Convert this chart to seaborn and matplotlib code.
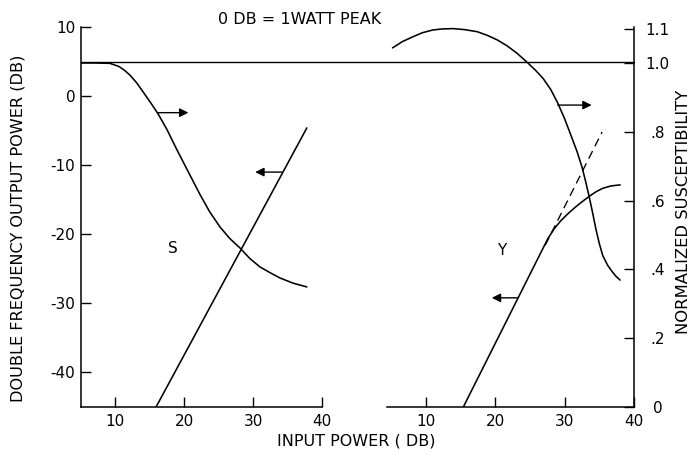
import matplotlib
matplotlib.use("Agg")
import matplotlib.pyplot as plt
import seaborn as sns

# ---- data -------------------------------------------------------------
# Sample S: normalized susceptibility and double-frequency output vs input power
s_power = [5, 7, 9.2, 10.5, 11.3, 12.1, 13.1, 14.05, 15.1, 16.2, 17.5, 18.9,
           20.8, 22.3, 23.7, 25.2, 26.6, 28.1, 29.5, 31.0, 32.5, 33.9, 35.8, 37.8]
s_susc = [1.0, 1.0, 0.999, 0.99, 0.979, 0.965, 0.942, 0.915, 0.885, 0.852, 0.806, 0.749,
          0.675, 0.617, 0.567, 0.523, 0.49, 0.462, 0.432, 0.407, 0.39, 0.375, 0.36, 0.349]
s_out_power = [15.9, 37.8]
s_out_db = [-45, -4.6]

# Sample Y
y_power = [5.2, 6.6, 8.1, 9.5, 11.0, 12.4, 13.9, 15.6, 17.4, 18.9, 20.3, 21.7, 23.1,
           24.6, 25.8, 26.9, 28.0, 29.0, 30.0, 31.0, 31.8, 32.5, 33.0, 33.5, 34.0,
           34.5, 35.0, 35.5, 36.2, 36.8, 37.4, 38.0]
y_susc = [1.044, 1.062, 1.076, 1.088, 1.096, 1.099, 1.10, 1.097, 1.091, 1.08, 1.067, 1.05, 1.029,
          1.002, 0.979, 0.955, 0.923, 0.884, 0.838, 0.785, 0.742, 0.698, 0.658, 0.615, 0.568,
          0.518, 0.475, 0.44, 0.412, 0.395, 0.38, 0.369]
y_out_power = [15.4, 23.3, 26.8, 27.6, 28.5, 29.4, 30.4, 31.4, 32.5, 33.7, 34.6, 35.5, 36.7, 38.0]
y_out_db = [-45, -29.2, -22.2, -20.6, -19.2, -18.1, -17.1, -16.2, -15.3, -14.4, -13.8, -13.35, -13.0, -12.85]
# square-law extrapolation of the Y output (dashed)
y_ext_power = [27.2, 35.4]
y_ext_db = [-21.6, -5.2]

# reference level: 5 dB output corresponds to susceptibility 1.0
ref_db = 5

db_ticks = [-40, -30, -20, -10, 0, 10]
db_labels = ["-40", "-30", "-20", "-10", "0", "10"]
power_ticks = [10, 20, 30, 40]
susc_ticks = [0, 0.2, 0.4, 0.6, 0.8, 1.0, 1.1]
susc_labels = ["0", ".2", ".4", ".6", ".8", "1.0", "1.1"]

# arrows: (tail x, head x, level in dB) telling which axis a curve is read on
s_susc_arrow = (16.2, 20.6, -2.4)
s_out_arrow = (34.2, 30.3, -11.0)
y_susc_arrow = (29.0, 33.9, -1.3)
y_out_arrow = (23.3, 19.5, -29.2)

# ---- style ------------------------------------------------------------
sns.set_theme(style="white")
plt.rcParams["font.family"] = ["DejaVu Sans"]
plt.rcParams["axes.unicode_minus"] = False

LW = 1.15
INK = "black"

fig = plt.figure(figsize=(6.94, 4.5), dpi=100)
W, H = 694, 450
ax1 = fig.add_axes([81 / W, 43 / H, 241 / W, 380 / H])
ax2 = fig.add_axes([387 / W, 43 / H, 247 / W, 380 / H])

susc_top = 380 / 344

for ax in (ax1, ax2):
    ax.set_facecolor("none")
    ax.set_ylim(-45, 10)
    ax.set_xticks(power_ticks)
    ax.set_xticklabels([str(t) for t in power_ticks])
    ax.tick_params(axis="x", direction="in", length=7, width=1, pad=5,
                   labelsize=11, colors=INK, bottom=True)
    ax.spines["top"].set_visible(False)
    ax.spines["right"].set_visible(False)
    for sp in ax.spines.values():
        sp.set_color(INK)
        sp.set_linewidth(1.1)

ax1.set_xlim(5, 40)
ax2.set_xlim(4.4, 40)

ax1.set_yticks(db_ticks)
ax1.set_yticklabels(db_labels)
ax1.tick_params(axis="y", direction="in", length=7, width=1, pad=4,
                labelsize=11, colors=INK, left=True)

ax2.spines["left"].set_visible(False)
ax2.set_yticks([])

# hidden susceptibility scale for the left panel
ax1s = ax1.twinx()
ax1s.set_ylim(0, susc_top)
ax1s.axis("off")

# visible susceptibility scale on the right panel
ax2s = ax2.twinx()
ax2s.set_ylim(0, susc_top)
ax2s.set_facecolor("none")
for name in ("top", "bottom", "left"):
    ax2s.spines[name].set_visible(False)
ax2s.spines["right"].set_color(INK)
ax2s.spines["right"].set_linewidth(1.1)
ax2s.set_yticks(susc_ticks)
ax2s.set_yticklabels(susc_labels)
ax2s.tick_params(axis="y", direction="in", length=7, width=1, pad=17,
                 labelsize=11, colors=INK, right=True)
for lbl in ax2s.get_yticklabels():
    lbl.set_horizontalalignment("center")

# ---- curves -----------------------------------------------------------
line_kw = dict(color=INK, linewidth=LW, estimator=None, legend=False)
sns.lineplot(x=s_power, y=s_susc, ax=ax1s, **line_kw)
sns.lineplot(x=s_out_power, y=s_out_db, ax=ax1, **line_kw)
sns.lineplot(x=y_power, y=y_susc, ax=ax2s, **line_kw)
sns.lineplot(x=y_out_power, y=y_out_db, ax=ax2, **line_kw)
sns.lineplot(x=y_ext_power, y=y_ext_db, ax=ax2, color=INK, linewidth=0.95,
             estimator=None, legend=False, linestyle=(0, (6.5, 4)))
for ax in (ax1, ax1s, ax2, ax2s):
    ax.set_xlabel("")
    ax.set_ylabel("")

# 1.0 reference line running across both panels
ax1.axhline(ref_db, xmin=0, xmax=(634 - 81) / 241, color=INK,
            linewidth=1.0, clip_on=False)

# ---- arrows -----------------------------------------------------------
arrow_kw = dict(arrowstyle="-|>", color=INK, lw=1.0, mutation_scale=13,
                shrinkA=0, shrinkB=0)
for ax, (x0, x1, lvl) in ((ax1, s_susc_arrow), (ax1, s_out_arrow),
                          (ax2, y_susc_arrow), (ax2, y_out_arrow)):
    ax.annotate("", xy=(x1, lvl), xytext=(x0, lvl), arrowprops=arrow_kw)

# ---- text -------------------------------------------------------------
ax1.text(18.4, -22, "S", fontsize=11, color=INK, ha="center", va="center")
ax2.text(21.0, -22.3, "Y", fontsize=11, color=INK, ha="center", va="center")

fig.text(218 / W, 1 - 20 / H, "0 DB = 1WATT PEAK", fontsize=11.5,
         color=INK, ha="left", va="center")
fig.text(356 / W, 1 - 441 / H, "INPUT POWER ( DB)", fontsize=11.5,
         color=INK, ha="center", va="center")
fig.text(18 / W, 1 - 228 / H, "DOUBLE FREQUENCY OUTPUT POWER (DB)",
         fontsize=11.6, color=INK, rotation=90, ha="center", va="center")
fig.text(684 / W, 1 - 212 / H, "NORMALIZED SUSCEPTIBILITY",
         fontsize=11.8, color=INK, rotation=90, ha="center", va="center")

fig.savefig("out.png", dpi=100, facecolor="white")
